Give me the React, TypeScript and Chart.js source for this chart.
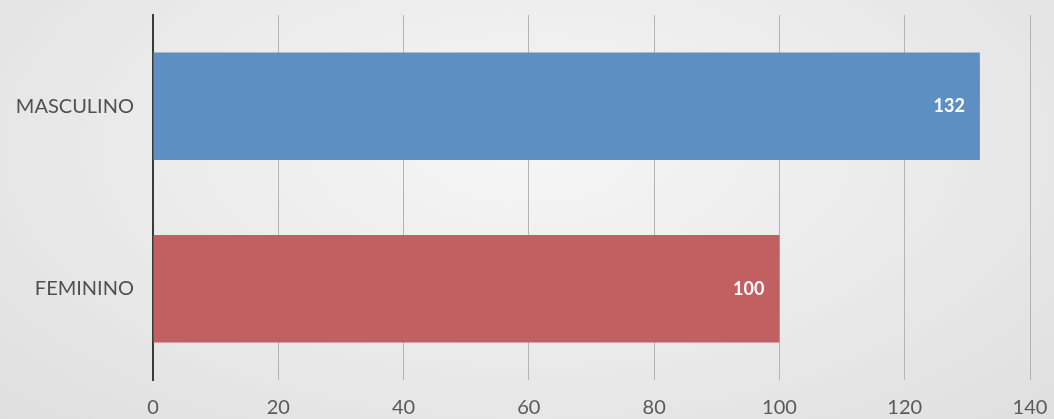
import React, { useEffect, useRef } from "react";
import { Chart, registerables } from "chart.js";

Chart.register(...registerables);

const categories = ["MASCULINO", "FEMININO"];
const values = [132, 100];
const barColors = ["#5e8fc2", "#c25f60"];
const xTicks = [0, 20, 40, 60, 80, 100, 120, 140];

const valueLabelPlugin = {
  id: "valueLabels",
  afterDatasetsDraw(chart: any) {
    const ctx = chart.ctx;
    const meta = chart.getDatasetMeta(0);
    ctx.save();
    ctx.fillStyle = "#ffffff";
    ctx.font = "bold 18px Lato, 'Noto Sans', sans-serif";
    ctx.textAlign = "right";
    ctx.textBaseline = "middle";
    meta.data.forEach((bar: any, i: number) => {
      ctx.fillText(String(values[i]), bar.x - 15, bar.y);
    });
    ctx.restore();
  },
};

export default function App() {
  const ref = useRef<HTMLCanvasElement | null>(null);

  useEffect(() => {
    document.body.style.margin = "0";
    const chart = new Chart(ref.current as HTMLCanvasElement, {
      type: "bar",
      data: {
        labels: categories,
        datasets: [
          {
            data: values,
            backgroundColor: barColors,
            borderWidth: 0,
            barPercentage: 0.59,
            categoryPercentage: 1,
          },
        ],
      },
      options: {
        indexAxis: "y",
        animation: false,
        responsive: false,
        maintainAspectRatio: false,
        layout: { padding: { left: 0, right: 24, top: 15, bottom: 0 } },
        plugins: {
          legend: { display: false },
          tooltip: { enabled: false },
        },
        scales: {
          x: {
            min: 0,
            max: 140,
            afterBuildTicks: (scale: any) => {
              scale.ticks = xTicks.map((v) => ({ value: v }));
            },
            afterFit: (scale: any) => {
              scale.height = 39;
              scale.paddingLeft = 0;
              scale.paddingRight = 0;
            },
            grid: {
              color: "#b4b4b4",
              lineWidth: 1,
              drawTicks: false,
            },
            border: { display: false },
            ticks: {
              color: "#5a5a5a",
              padding: 16,
              font: { family: "Lato, 'Noto Sans', sans-serif", size: 20 },
            },
          },
          y: {
            afterFit: (scale: any) => {
              scale.width = 153;
              scale.paddingTop = 0;
              scale.paddingBottom = 0;
            },
            grid: { display: false, drawTicks: false },
            border: { display: true, color: "#3a3a3a", width: 2 },
            ticks: {
              color: "#505050",
              padding: 19,
              font: { family: "Lato, 'Noto Sans', sans-serif", size: 20 },
            },
          },
        },
      },
      plugins: [valueLabelPlugin],
    });
    return () => chart.destroy();
  }, []);

  return (
    <div
      style={{
        position: "absolute",
        left: 0,
        top: 0,
        width: 1054,
        height: 419,
        background:
          "radial-gradient(ellipse at 50% 35%, #f6f6f6 0%, #ebebeb 50%, #dfdfdf 100%)",
      }}
    >
      <canvas ref={ref} width={1054} height={419} style={{ display: "block" }} />
    </div>
  );
}
